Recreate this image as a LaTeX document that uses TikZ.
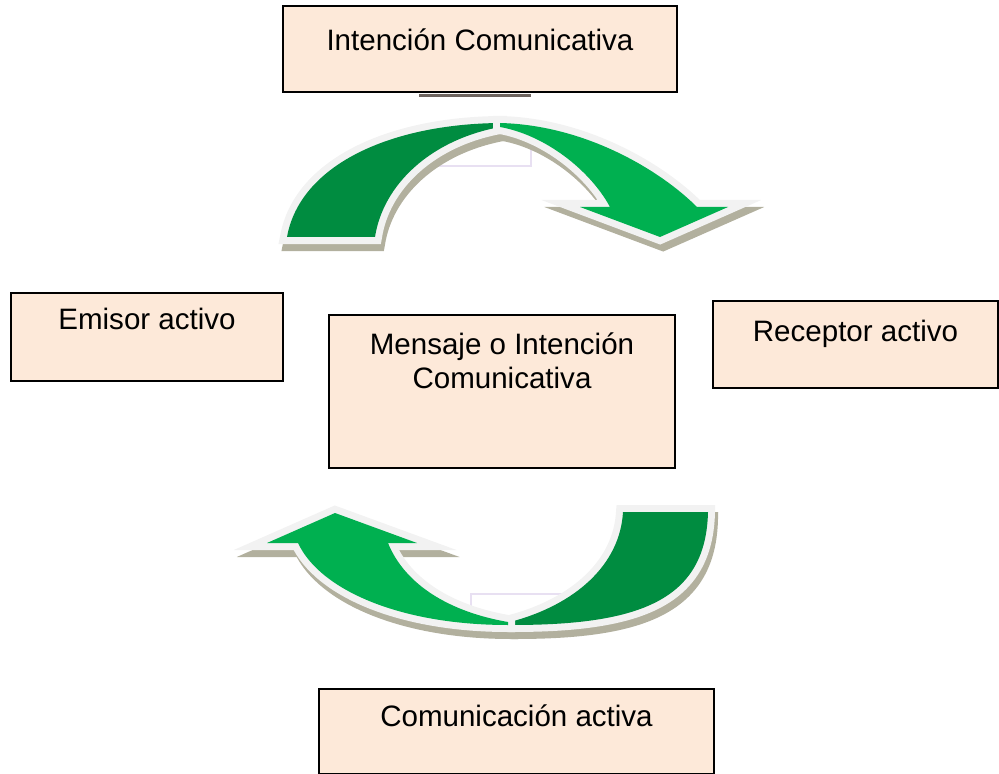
\documentclass[tikz,border=0pt]{standalone}
\usepackage{fontspec}
\setmainfont{Liberation Sans}
\usepackage{tikz}
\usetikzlibrary{positioning}
\definecolor{cpeach}{RGB}{253,233,217}
\definecolor{cgreen}{RGB}{0,176,80}
\definecolor{cdarkgreen}{RGB}{0,140,64}
\definecolor{coutline}{RGB}{242,242,242}
\definecolor{cshadow}{RGB}{178,176,158}
\definecolor{cfaint}{RGB}{232,224,242}
\definecolor{cline}{RGB}{110,100,95}
\tikzstyle{box} = [rectangle, draw=black, line width=0.05cm, fill=cpeach, anchor=north, inner ysep=0pt, align=center, font={\fontsize{21}{23.5}\selectfont}]
\tikzstyle{arrowshadow} = [fill=cshadow, draw=cshadow, line width=0.35cm]
\tikzstyle{darkpiece} = [fill=cdarkgreen, preaction={draw=coutline, line width=0.35cm}]
\tikzstyle{lightpiece} = [fill=cgreen, preaction={draw=coutline, line width=0.35cm}]
% outlines of the two bent arrows
\newcommand{\topdark}{(287,237) .. controls (300,165) and (390,124) .. (500,123) -- (500,127) .. controls (430,140) and (383,185) .. (375,237) -- cycle}
\newcommand{\toplight}{(500,123) .. controls (585,125) and (660,170) .. (697,207) -- (728,207) -- (660,237) -- (580,207) -- (610,207) .. controls (590,170) and (545,135) .. (500,127) -- cycle}
\newcommand{\botdark}{(708,512) .. controls (706,600) and (640,625) .. (512,625) -- (510,622) .. controls (575,605) and (620,565) .. (623,512) -- cycle}
\newcommand{\botlight}{(508,625) .. controls (400,625) and (320,590) .. (298,543) -- (267,543) -- (335,513) -- (417,543) -- (388,543) .. controls (405,585) and (450,612) .. (508,622) -- cycle}
\begin{document}
\begin{tikzpicture}[x=0.025cm, y=-0.025cm]
\useasboundingbox (0,0) rectangle (999,774);

% faint frames behind the arrows
\draw[cfaint, line width=0.03cm] (435,130) rectangle (531,166);
\draw[cfaint, line width=0.03cm] (471,594) rectangle (563,632);

% shadows
\path[arrowshadow, shift={(3,7)}] \topdark;
\path[arrowshadow, shift={(3,7)}] \toplight;
\path[arrowshadow, shift={(3,7)}] \botdark;
\path[arrowshadow, shift={(3,7)}] \botlight;

% upper arrow
\path[darkpiece] \topdark;
\path[lightpiece] \toplight;

% lower arrow
\path[darkpiece] \botdark;
\path[lightpiece] \botlight;

% boxes
\node (intencion) [box, minimum width=9.85cm, text height=1.1cm, text depth=1.05cm] at (480,5) {Intención Comunicativa};
\node (emisor) [box, minimum width=6.8cm, text height=0.9cm, text depth=1.3cm] at (147,292) {Emisor activo};
\node (receptor) [box, minimum width=7.125cm, text height=1cm, text depth=1.175cm] at (855.5,300) {Receptor activo};
\node (mensaje) [box, minimum width=8.65cm, text height=1.825cm, text depth=2cm] at (502,314) {Mensaje o Intención\\Comunicativa};
\node (comunicacion) [box, minimum width=9.875cm, text height=0.925cm, text depth=1.2cm] at (516.5,688) {Comunicación activa};

% grey bar under the top box
\draw[cline, line width=0.075cm] ([shift={(-61,2)}]intencion.south) -- ++(112,0);

\end{tikzpicture}
\end{document}
